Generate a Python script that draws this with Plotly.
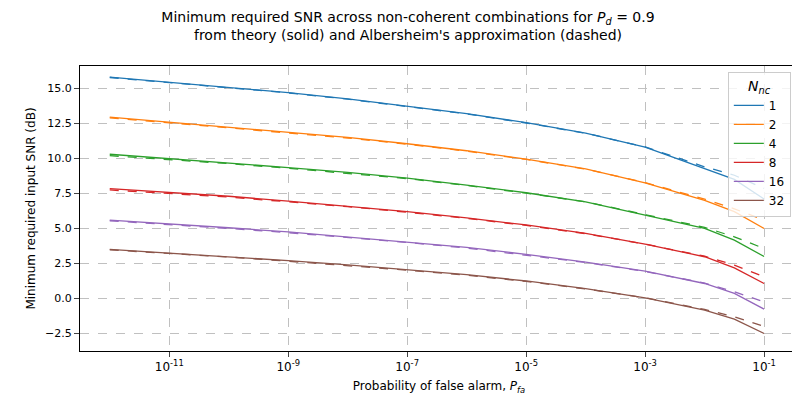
import plotly.graph_objects as go

log_pfa = [-12, -11, -10, -9, -8, -7, -6, -5, -4, -3, -2, -1.5, -1]
n_nc = [1, 2, 4, 8, 16, 32]
colors = ["#1f77b4", "#ff7f0e", "#2ca02c", "#d62728", "#9467bd", "#8c564b"]

theory = {
    1: [15.8, 15.45, 15.1, 14.7, 14.25, 13.75, 13.2, 12.55, 11.8, 10.8, 9.3, 8.5, 7.1],
    2: [12.95, 12.6, 12.25, 11.9, 11.5, 11.05, 10.55, 9.95, 9.25, 8.25, 7.0, 6.2, 5.0],
    4: [10.3, 10.0, 9.7, 9.35, 9.0, 8.6, 8.1, 7.55, 6.9, 5.95, 5.0, 4.17, 3.0],
    8: [7.85, 7.6, 7.3, 6.95, 6.6, 6.2, 5.75, 5.25, 4.65, 3.88, 2.98, 2.19, 1.07],
    16: [5.6, 5.35, 5.05, 4.75, 4.4, 4.05, 3.65, 3.15, 2.6, 1.95, 1.07, 0.36, -0.76],
    32: [3.5, 3.25, 3.0, 2.7, 2.4, 2.05, 1.7, 1.25, 0.7, 0.05, -0.83, -1.48, -2.5],
}
albersheim = {
    1: [15.78, 15.43, 15.08, 14.68, 14.23, 13.73, 13.18, 12.53, 11.8, 10.82, 9.4, 8.8, 7.86],
    2: [12.9, 12.55, 12.2, 11.85, 11.46, 11.02, 10.52, 9.93, 9.24, 8.27, 7.1, 6.4, 5.6],
    4: [10.2, 9.92, 9.63, 9.3, 8.95, 8.56, 8.07, 7.52, 6.9, 5.97, 5.08, 4.4, 3.57],
    8: [7.75, 7.52, 7.24, 6.9, 6.56, 6.16, 5.72, 5.22, 4.63, 3.88, 3.02, 2.38, 1.55],
    16: [5.55, 5.3, 5.0, 4.7, 4.36, 4.0, 3.6, 3.1, 2.57, 1.93, 1.1, 0.48, -0.24],
    32: [3.47, 3.22, 2.96, 2.66, 2.36, 2.02, 1.66, 1.22, 0.68, 0.05, -0.78, -1.3, -2.0],
}

pfa = [10 ** e for e in log_pfa]

fig = go.Figure()
for n, c in zip(n_nc, colors):
    fig.add_trace(go.Scatter(x=pfa, y=theory[n], mode="lines", name=str(n),
                             line=dict(color=c, width=1.3)))
    fig.add_trace(go.Scatter(x=pfa, y=albersheim[n], mode="lines", showlegend=False,
                             line=dict(color=c, width=1.3, dash="dash")))

xt = [-11, -9, -7, -5, -3, -1]
fig.update_xaxes(type="log", range=[-12.5, -0.43],
                 tickvals=[10 ** e for e in xt],
                 ticktext=[f"10<sup>{e}</sup>" for e in xt],
                 tickfont=dict(size=12),
                 showgrid=True, gridcolor="#c0c0c0", griddash="dash",
                 showline=True, linecolor="black", mirror=True, ticks="outside",
                 title=dict(text="Probability of false alarm, <i>P<sub>fa</sub></i>", font=dict(size=12),
                            standoff=8))
fig.update_yaxes(range=[-3.75, 16.6], tickvals=[-2.5, 0, 2.5, 5, 7.5, 10, 12.5, 15],
                 tickformat=".1f", tickfont=dict(size=11),
                 showgrid=True, gridcolor="#c0c0c0", griddash="dash",
                 zeroline=False, showline=True, linecolor="black", mirror=True, ticks="outside",
                 title=dict(text="Minimum required input SNR (dB)", font=dict(size=12), standoff=6))
fig.update_layout(
    width=800, height=400, plot_bgcolor="white", paper_bgcolor="white",
    font=dict(family="DejaVu Sans", size=11, color="black"),
    title=dict(text="Minimum required SNR across non-coherent combinations for <i>P<sub>d</sub></i> = 0.9<br>"
                    "from theory (solid) and Albersheim's approximation (dashed)",
               x=0.5, xanchor="center", y=0.965, yanchor="top", font=dict(size=14)),
    margin=dict(l=72, r=10, t=58, b=57, autoexpand=False),
    legend=dict(title=dict(text="<i>N<sub>nc</sub></i>", side="top center"),
                font=dict(size=12),
                x=0.99, y=0.98, xanchor="right", yanchor="top",
                bordercolor="#cccccc", borderwidth=1, bgcolor="rgba(255,255,255,0.8)"),
)
fig.write_html("out.html")
